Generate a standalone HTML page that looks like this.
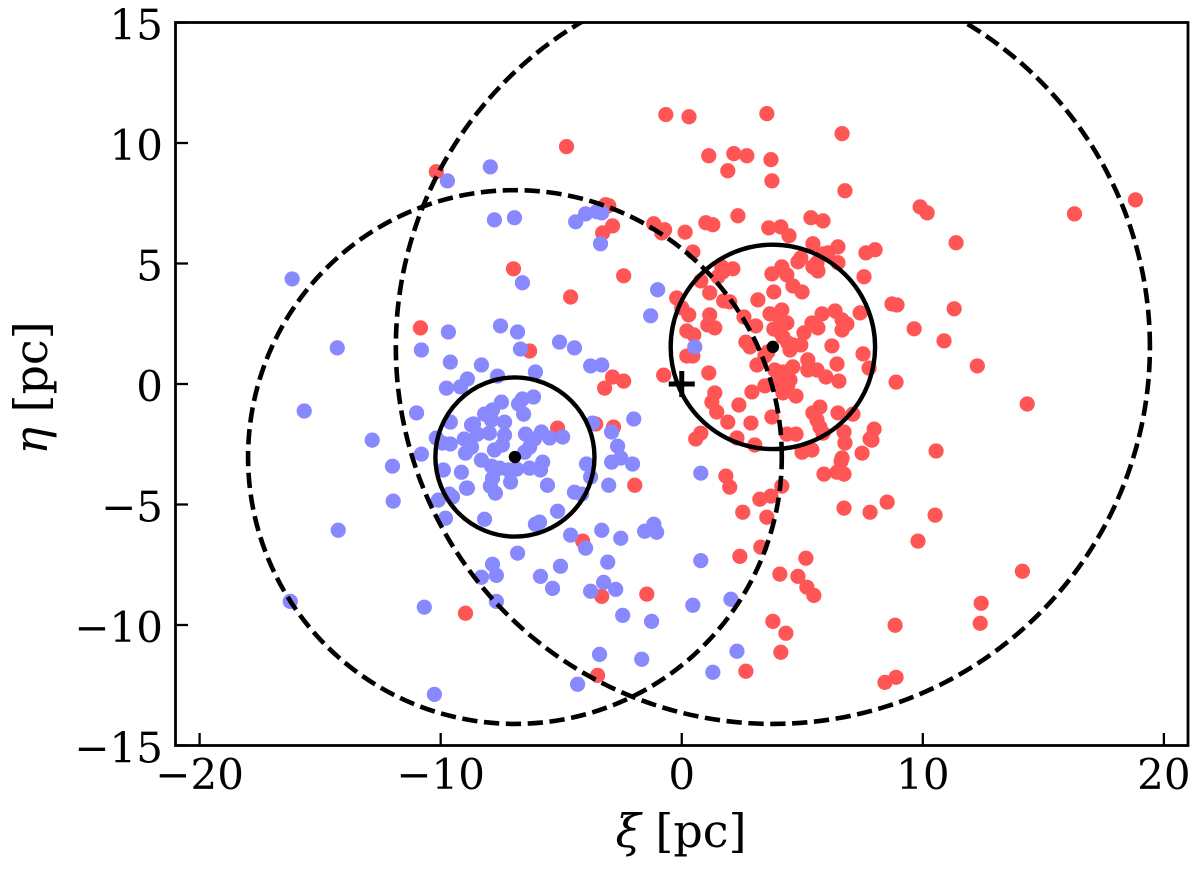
<!DOCTYPE html>
<html>
<head>
<meta charset="utf-8">
<title>Stellar positions</title>
<style>
html,body{margin:0;padding:0;background:#fff;}
svg{display:block;}
text{font-family:"DejaVu Serif","Liberation Serif",serif;fill:#000;}
</style>
</head>
<body>
<svg id="chart" width="1200" height="882" viewBox="0 0 1200 882" xmlns="http://www.w3.org/2000/svg">
<rect x="0" y="0" width="1200" height="882" fill="#fff"/>
</svg>
<script>
const xTickValues = [-20, -10, 0, 10, 20];
const yTickValues = [-15, -10, -5, 0, 5, 10, 15];
const xLimits = [-21, 21];
const yLimits = [-15, 15];

const blueStars = [
[-9.72,8.43],[-16.16,4.36],[-9.68,2.16],[-10.8,1.41],[-14.29,1.5],[-9.6,.91],[-9.76,-.17],[-9.18,-.12],[-8.89,.21],[-15.66,-1.12],
[-11,-1.2],[-9.6,-1.58],[-8.72,-1.7],[-12.84,-2.33],[-10.18,-2.24],[-9.6,-2.49],[-9.93,-2.45],[-9.02,-2.28],[-8.97,-2.87],[-10.8,-2.91],
[-12,-3.41],[-9.89,-3.57],[-9.14,-3.66],[-8.93,-4.32],[-9.64,-4.57],[-9.51,-4.69],[-10.1,-4.82],[-11.97,-4.86],[-9.8,-5.57],[-14.25,-6.07],
[-10.68,-9.26],[-16.24,-9.02],[-10.26,-12.88],
[-6.69,1.45],[-5.07,1.74],[-4.45,1.5],[-3.78,.75],[-3.32,.79],[-8.31,.79],[-7.64,.33],[-6.07,.5],
[-6.15,-.54],[-6.61,-.62],[-6.77,-.83],[-6.56,-1.25],[-7.48,-.75],[-7.85,-1.08],[-8.18,-1.25],[-7.89,-1.5],[-7.35,-1.58],[-8.64,-1.66],
[-7.98,-2.04],[-8.48,-2.08],[-7.35,-2.12],[-8.72,-2.62],[-7.44,-2.53],[-7.77,-2.74],[-6.48,-2.08],[-5.82,-1.99],[-6.11,-2.28],[-5.48,-2.24],
[-4.94,-2.2],[-6.31,-2.62],[-6.52,-2.83],[-8.31,-3.16],[-5.77,-3.24],[-7.89,-3.41],[-7.56,-3.49],[-7.19,-3.57],[-6.85,-3.53],[-6.31,-3.49],
[-5.86,-3.57],[-7.85,-3.91],[-7.1,-4.07],[-7.94,-4.24],[-8.89,-4.32],[-7.73,-4.53],[-5.57,-4.2],[-3.95,-3.32],[-3.78,-3.86],[-3.03,-4.2],
[-4.45,-4.49],[-4.15,-4.57],[-5.15,-5.28],[-8.18,-5.61],[-5.9,-5.73],[-6.07,-5.82],[-4.61,-6.27],[-3.99,-6.81],[-3.32,-6.07],[-2.53,-6.4],
[-1.54,-6.11],[-1.16,-5.82],[-1.04,-6.15],[-1.99,-1.45],[-2.91,-1.99],[-2.66,-2.58],[-3.7,-1.62],[-2.53,-3.07],[-2.91,-3.24],[-2.04,-3.32],
[-6.81,-7.02],[-7.85,-7.48],[-5.03,-7.56],[-3.07,-7.39],[-7.69,-7.94],[-8.31,-8.02],[-5.86,-7.98],[-3.24,-8.23],[-5.36,-8.48],[-3.78,-8.6],
[-2.74,-8.52],[-2.45,-9.6],[-1.25,-9.85],[-7.69,-9.02],[.46,-9.18],[2.04,-8.93],[.79,-7.33],[.79,-3.7],[-3.41,-11.22],[-1.66,-11.42],
[-4.32,-12.46],[2.29,-11.09],[1.29,-11.96],
[-7.94,9.01],[-7.77,6.81],[-6.94,6.9],[-4.4,6.73],[-3.99,7.06],[-3.53,7.15],[-3.32,7.1],[-3.37,5.82],[-6.61,4.2],[-1,3.91],
[-1.29,2.83],[-7.52,2.41],[-6.81,2.16],[.54,1.54]
];

const redStars = [
[-10.18,8.81],[-10.84,2.33],[-8.97,-9.51],[-6.31,1.37],[-2.87,.29],[-2.41,.12],[-3.2,-.17],[-.75,.37],[-5.15,-1.83],[-3.57,-1.66],
[-2.83,-1.79],[-1.95,-4.2],[-4.11,-6.52],[-4.78,9.85],[-.66,11.18],[.3,11.09],[-3.16,7.44],[-3.03,7.4],[-2.87,6.56],[-3.28,6.27],
[-1.16,6.65],[-.71,6.4],[-.83,6.27],[.14,6.3],[-2.41,4.49],[-6.98,4.78],[-4.61,3.61],[.46,5.48],[-.21,3.57],[0,3.16],
[.29,2.87],[.21,2.2],[3.53,11.22],[6.65,10.39],[1.12,9.47],[2.16,9.56],[2.7,9.47],[3.7,9.31],[1.91,8.85],[3.74,8.43],
[6.77,8.02],[2.33,6.98],[1,6.69],[1.29,6.61],[3.61,6.48],[4.11,6.52],[4.45,6.15],[5.44,5.82],[5.36,6.9],[5.86,6.77],
[6.48,5.69],[7.64,5.44],[8.02,5.57],[6.07,5.44],[5.86,5.4],[4.94,5.23],[4.82,5.07],[5.61,5.03],[6.48,5.03],[5.44,4.86],
[5.65,4.69],[7.56,4.45],[1.66,4.86],[2.12,4.78],[1.7,4.65],[1.5,4.45],[.79,4.28],[4.15,4.86],[3.74,4.57],[4.36,4.53],
[4.61,4.07],[4.99,3.82],[3.82,3.82],[1.16,3.78],[1.74,3.45],[1.99,3.41],[3.16,3.49],[1.16,2.87],[2.58,2.78],[4.15,3.07],
[3.66,2.91],[4.36,2.53],[4.07,2.74],[5.82,2.91],[6.36,3.03],[7.4,2.95],[6.65,2.66],[6.85,2.49],[6.65,2.24],[8.72,3.32],
[8.93,3.28],[1.08,2.45],[1.37,2.33],[3.07,2.41],[5.4,2.53],[5.65,2.33],[5.07,2.12],[3.82,2.28],[4.07,2.16],[.5,2.04],
[2.66,1.74],[2.83,1.54],[4.2,1.95],[4.4,1.7],[4.94,1.62],[4.61,1.62],[4.49,1.41],[6.23,1.58],[3.57,1.33],[3.45,1.16],
[.21,1.16],[.46,1.16],[7.52,1.25],[5.23,1],[3.12,.79],[6.44,.83],[7.77,.66],[4.61,.71],[5.23,.58],[5.61,.58],
[5.98,.29],[6.52,.12],[8.89,.08],[3.86,.58],[4.2,.5],[4.36,.29],[4.07,.25],[4.49,.17],[1.12,.46],[3.45,-.08],
[3.95,-.04],[4.4,-.04],[2.91,-.33],[4.2,-.37],[4.74,-.5],[1.37,-.37],[1.25,-.75],[1.45,-1.16],[2.37,-.87],[5.73,-.96],
[5.44,-1.2],[6.48,-1.2],[7.1,-1.25],[3.74,-1.37],[5.61,-1.5],[1.91,-1.58],[2.87,-1.62],[5.73,-1.79],[5.86,-2.04],[6.73,-1.99],
[7.98,-1.87],[7.81,-2.28],[6.77,-2.45],[.79,-2.04],[.58,-2.28],[2.29,-2.24],[3.03,-2.53],[4.36,-2.08],[4.74,-2.08],[4.99,-2.83],
[5.4,-2.74],[7.48,-2.87],[6.65,-3.07],[7.89,-2.33],[10.55,-2.78],[6.61,-3.2],[5.9,-3.74],[6.44,-3.66],[6.73,-3.74],[1.83,-3.82],
[1.99,-4.28],[4.15,-4.24],[3.7,-4.65],[3.24,-4.78],[2.53,-5.32],[3.53,-5.53],[6.73,-5.15],[7.81,-5.32],[8.52,-4.9],[10.51,-5.44],
[9.8,-6.52],[3.28,-6.77],[2.41,-7.15],[5.15,-7.23],[4.07,-7.89],[4.82,-7.98],[5.19,-8.43],[5.48,-8.77],[3.78,-9.85],[4.32,-10.34],
[4.11,-11.13],[8.85,-10.01],[2.66,-11.92],[8.43,-12.38],[8.89,-12.17],[-3.32,-8.81],[-1.45,-8.72],[-3.49,-12.09],
[18.82,7.64],[16.29,7.06],[9.89,7.35],[10.18,7.1],[11.38,5.86],[11.3,3.12],[10.88,1.79],[9.64,2.29],[12.26,.75],[14.33,-.83],
[14.13,-7.77],[12.42,-9.1],[12.38,-9.93]
];

const clusterCentres = [[-6.92,-3.03],[3.78,1.54]];
const innerRadii = [3.3,4.24];
const outerRadii = [11.07,15.64];
const originMarker = [0,0];

const NS = 'http://www.w3.org/2000/svg';
const svg = document.getElementById('chart');
const plotLeft = 175.5, plotRight = 1188, plotTop = 22.5, plotBottom = 745.5;
function xScale(v){return plotLeft + (v - xLimits[0]) / (xLimits[1] - xLimits[0]) * (plotRight - plotLeft);}
function yScale(v){return plotBottom - (v - yLimits[0]) / (yLimits[1] - yLimits[0]) * (plotBottom - plotTop);}
const pxPerUnit = (plotRight - plotLeft) / (xLimits[1] - xLimits[0]);
function make(tag, attrs, parent){
  const el = document.createElementNS(NS, tag);
  for (const k in attrs) el.setAttribute(k, attrs[k]);
  (parent || svg).appendChild(el);
  return el;
}
function fmt(v){return v < 0 ? '\u2212' + Math.abs(v) : String(v);}

const clip = make('clipPath', {id:'plot-clip'});
make('rect', {x:plotLeft, y:plotTop, width:plotRight-plotLeft, height:plotBottom-plotTop}, clip);
const plot = make('g', {'clip-path':'url(#plot-clip)'});



redStars.forEach(function(p){
  const c = make('circle', {cx:xScale(p[0]), cy:yScale(p[1]), r:7.6, fill:'#ff5555'}, plot);
  
  
});
blueStars.forEach(function(p){
  const c = make('circle', {cx:xScale(p[0]), cy:yScale(p[1]), r:7.6, fill:'#8888ff'}, plot);
  
  
});

clusterCentres.forEach(function(p, i){
  const inner = make('circle', {cx:xScale(p[0]), cy:yScale(p[1]), r:innerRadii[i]*pxPerUnit, fill:'none', stroke:'#000', 'stroke-width':4.4}, plot);
  
  
  const outer = make('circle', {cx:0, cy:0, r:outerRadii[i]*pxPerUnit, fill:'none', stroke:'#000', 'stroke-width':4.6, 'stroke-dasharray':'15.3 6.6', transform:'translate('+xScale(p[0])+' '+yScale(p[1])+') scale(1 -1)'}, plot);
  
  
  const dot = make('circle', {cx:xScale(p[0]), cy:yScale(p[1]), r:6.2, fill:'#000'}, plot);
  
  
});

const ox = xScale(originMarker[0]), oy = yScale(originMarker[1]);
const plus = make('path', {d:'M'+(ox-13)+' '+oy+'H'+(ox+13)+'M'+ox+' '+(oy-13)+'V'+(oy+13), stroke:'#000', 'stroke-width':5, fill:'none'}, plot);



xTickValues.forEach(function(v){
  const x = xScale(v);
  const t = make('line', {x1:x, x2:x, y1:plotBottom, y2:plotBottom-12.5, stroke:'#000', 'stroke-width':2.3});
  
  
  const l = make('text', {x:x, y:789, 'font-size':42, 'text-anchor':'middle'});
  l.textContent = fmt(v);
  
  
});
yTickValues.forEach(function(v){
  const y = yScale(v);
  const t = make('line', {x1:plotLeft, x2:plotLeft+12.5, y1:y, y2:y, stroke:'#000', 'stroke-width':2.3});
  
  
  const l = make('text', {x:163, y:y+17, 'font-size':42, 'text-anchor':'end'});
  l.textContent = fmt(v);
  
  
});

const frame = make('rect', {x:plotLeft, y:plotTop, width:plotRight-plotLeft, height:plotBottom-plotTop, fill:'none', stroke:'#000', 'stroke-width':2.8});



const xTitle = make('text', {x:681, y:847, 'font-size':46, 'text-anchor':'middle'});


const xi = make('tspan', {'font-style':'italic'}, xTitle);
xi.textContent = '\u03BE';
xTitle.appendChild(document.createTextNode(' [pc]'));

const yTitle = make('text', {x:0, y:0, 'font-size':46, 'text-anchor':'middle', transform:'translate(47 388) rotate(-90)'});


const eta = make('tspan', {'font-style':'italic'}, yTitle);
eta.textContent = '\u03B7';
yTitle.appendChild(document.createTextNode(' [pc]'));
</script>
</body>
</html>
